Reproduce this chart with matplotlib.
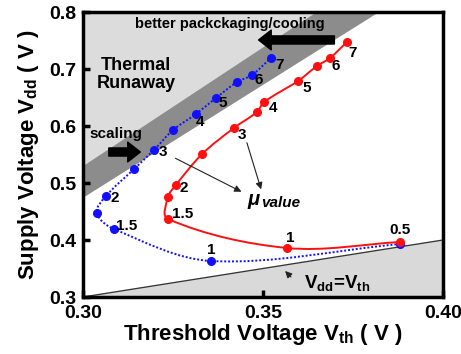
import matplotlib
matplotlib.use('Agg')
import matplotlib.pyplot as plt
import numpy as np
from matplotlib.path import Path
from matplotlib.patches import PathPatch

plt.rcParams['font.family'] = ['Liberation Sans', 'DejaVu Sans']
plt.rcParams['font.weight'] = 'bold'
plt.rcParams['mathtext.fontset'] = 'custom'
plt.rcParams['mathtext.rm'] = 'Liberation Sans:bold'
plt.rcParams['mathtext.it'] = 'Liberation Sans:bold:italic'
plt.rcParams['mathtext.bf'] = 'Liberation Sans:bold'

# blue: dotted curve, red: solid curve (threshold vs supply voltage for each mu)
blue_vth = [0.3881, 0.3356, 0.3086, 0.3039, 0.3064, 0.3142, 0.3197,
            0.3250, 0.3314, 0.3369, 0.3428, 0.3469, 0.3522]
blue_vdd = [0.3930, 0.3632, 0.4193, 0.4474, 0.4772, 0.5246, 0.5579,
            0.5930, 0.6211, 0.6491, 0.6772, 0.6895, 0.7193]
blue_labels = {1: '1', 2: '1.5', 4: '2', 6: '3', 8: '4', 9: '5', 11: '6', 12: '7'}

red_vth = [0.3881, 0.3567, 0.3236, 0.3236, 0.3258, 0.3331, 0.3419,
           0.3483, 0.3503, 0.3597, 0.3650, 0.3686, 0.3733]
red_vdd = [0.3965, 0.3860, 0.4368, 0.4754, 0.4965, 0.5509, 0.5965,
           0.6246, 0.6421, 0.6789, 0.7053, 0.7193, 0.7474]
red_labels = {0: '0.5', 1: '1', 2: '1.5', 4: '2', 6: '3', 8: '4', 9: '5', 11: '6', 12: '7'}

# label offsets in pixels
blue_off = {1: (0, 11), 2: (13, 3), 4: (9, -2), 6: (9, -2), 8: (4, -8),
            9: (7, -5), 11: (7, -5), 12: (9, -7)}
red_off = {0: (0, 12), 1: (3, 10), 2: (15, 5), 4: (8, -3), 6: (8, -7),
           8: (9, -6), 9: (9, -7), 11: (6, -8), 12: (6, -11)}


def smooth_path(ax, x, y):
    # cubic bezier through every point, built in screen space so the
    # curve bends the same way it looks on the page
    p = ax.transData.transform(np.column_stack([x, y]))
    n = len(p)
    tang = []
    for i in range(n):
        d = p[min(i + 1, n - 1)] - p[max(i - 1, 0)]
        tang.append(d / np.hypot(*d))
    verts = [p[0]]
    codes = [Path.MOVETO]
    for i in range(n - 1):
        L = np.hypot(*(p[i + 1] - p[i])) / 3
        verts += [p[i] + tang[i] * L, p[i + 1] - tang[i + 1] * L, p[i + 1]]
        codes += [Path.CURVE4] * 3
    verts = ax.transData.inverted().transform(np.array(verts))
    return Path(verts, codes)


fig = plt.figure(figsize=(4.61, 3.54), dpi=100)
ax = fig.add_axes([0.18, 0.161, 0.781, 0.805])
ax.set_xlim(0.30, 0.40)
ax.set_ylim(0.3, 0.8)

# thermal runaway region and packaging band
ax.fill([0.30, 0.3653, 0.30], [0.528, 0.80, 0.80], color='#dcdcdc', zorder=0)
ax.fill([0.30, 0.3653, 0.3819, 0.30], [0.528, 0.80, 0.80, 0.4754],
        color='#8c8c8c', zorder=0)
# Vdd = Vth
ax.fill([0.30, 0.40, 0.40], [0.30, 0.40, 0.30], color='#d9d9d9', zorder=0)
ax.plot([0.30, 0.40], [0.30, 0.40], color='#333333', lw=0.9, zorder=1)

ax.add_patch(PathPatch(smooth_path(ax, blue_vth, blue_vdd), fill=False,
                       edgecolor='#1010ff', lw=1.4, ls=(0, (1, 1)), zorder=3))
ax.add_patch(PathPatch(smooth_path(ax, red_vth, red_vdd), fill=False,
                       edgecolor='#ff1010', lw=1.4, zorder=3))
ax.plot(blue_vth, blue_vdd, 'o', color='#1010ff', ms=5.5, zorder=3)
ax.plot(red_vth, red_vdd, 'o', color='#ff1010', ms=5.5, zorder=3)

for i, t in blue_labels.items():
    ax.annotate(t, (blue_vth[i], blue_vdd[i]), xytext=blue_off[i],
                textcoords='offset pixels', ha='center', va='center',
                fontsize=11, fontweight='bold', zorder=4)
for i, t in red_labels.items():
    ax.annotate(t, (red_vth[i], red_vdd[i]), xytext=red_off[i],
                textcoords='offset pixels', ha='center', va='center',
                fontsize=11, fontweight='bold', zorder=4)

ax.text(0.3147, 0.691, 'Thermal\nRunaway', ha='center', va='center',
        fontsize=13, fontweight='bold', linespacing=1.1)
ax.text(0.3408, 0.779, 'better packckaging/cooling', ha='center',
        va='center', fontsize=10.5, fontweight='bold')
ax.text(0.3092, 0.586, 'scaling', ha='center', va='center',
        fontsize=11, fontweight='bold')
ax.text(0.3455, 0.467, r'$\mu$', ha='left', va='center', fontsize=14.5)
ax.text(0.3495, 0.465, 'value', ha='left', va='center', fontsize=11,
        fontweight='bold', style='italic')
ax.text(0.3705, 0.325, r'V$_{\mathrm{dd}}$=V$_{\mathrm{th}}$', ha='center',
        va='center', fontsize=13.5)

# thick arrows
big = dict(arrowstyle='simple,head_length=0.7,head_width=1.1,tail_width=0.45',
           color='black', mutation_scale=13)
ax.annotate('', xy=(0.3480, 0.751), xytext=(0.3706, 0.751), arrowprops=big)
ax.annotate('', xy=(0.3167, 0.5544), xytext=(0.3064, 0.5544), arrowprops=big)

# thin arrows
thin = dict(arrowstyle='-|>', color='#222222', lw=0.8, mutation_scale=10)
ax.annotate('', xy=(0.3447, 0.4825), xytext=(0.3250, 0.5456), arrowprops=thin)
ax.annotate('', xy=(0.3497, 0.4842), xytext=(0.3453, 0.5754), arrowprops=thin)
ax.annotate('', xy=(0.3556, 0.3491), xytext=(0.3583, 0.3316), arrowprops=thin)

ax.set_xticks([0.30, 0.35, 0.40])
ax.set_xticklabels(['0.30', '0.35', '0.40'])
ax.set_yticks([0.3, 0.4, 0.5, 0.6, 0.7, 0.8])
ax.set_yticklabels(['0.3', '0.4', '0.5', '0.6', '0.7', '0.8'])
ax.tick_params(direction='in', length=5, width=2.5, labelsize=14)
ax.tick_params(axis='x', pad=6)
ax.tick_params(axis='y', pad=5)
for lab in ax.get_xticklabels() + ax.get_yticklabels():
    lab.set_fontweight('bold')
for s in ax.spines.values():
    s.set_linewidth(2.5)

ax.set_xlabel(r'Threshold Voltage V$_{\mathrm{th}}$ ( V )', fontsize=16,
              fontweight='bold', labelpad=0)
ax.set_ylabel(r'Supply Voltage V$_{\mathrm{dd}}$ ( V )', fontsize=16,
              fontweight='bold', labelpad=6)

fig.savefig('out.png', dpi=100)
